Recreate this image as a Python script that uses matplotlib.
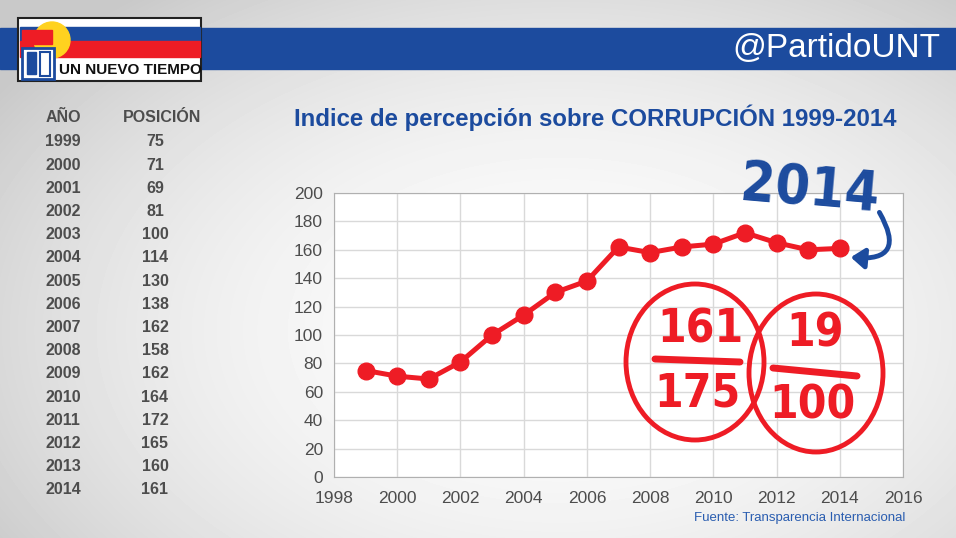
import numpy as np
import matplotlib.pyplot as plt
from matplotlib.patches import Rectangle, Circle, Ellipse, FancyArrowPatch

years = [1999, 2000, 2001, 2002, 2003, 2004, 2005, 2006, 2007,
         2008, 2009, 2010, 2011, 2012, 2013, 2014]
posicion = [75, 71, 69, 81, 100, 114, 130, 138, 162,
            158, 162, 164, 172, 165, 160, 161]

blue = '#1c4b9e'
red = '#ee1c25'
gray_txt = '#4d4d4d'
plt.rcParams['font.family'] = ['Liberation Sans', 'DejaVu Sans']
hand = dict(family='DejaVu Sans', fontstretch='condensed', fontweight='bold')

W, H = 956, 538
fig = plt.figure(figsize=(W / 100, H / 100), dpi=100)

# background: light gray with a whiter centre
bg = fig.add_axes([0, 0, 1, 1])
yy, xx = np.mgrid[0:H, 0:W]
r = np.sqrt(((xx - 560) / 520.0) ** 2 + ((yy - 330) / 330.0) ** 2)
bg.imshow(0.99 - 0.12 * np.clip(r, 0, 1.3) ** 2, cmap='gray', vmin=0, vmax=1,
          extent=[0, W, H, 0], aspect='auto')
bg.set_xlim(0, W)
bg.set_ylim(H, 0)
bg.axis('off')

# header band
bg.add_patch(Rectangle((0, 28), W, 41, color=blue))
bg.text(940, 49, '@PartidoUNT', color='white', fontsize=24, ha='right', va='center')

# logo
bg.add_patch(Rectangle((18, 18), 183, 63, facecolor='white', edgecolor='#222222', lw=1.5))
bg.add_patch(Rectangle((20, 27), 180, 14, color=blue))
bg.add_patch(Rectangle((20, 41), 180, 16, color=red))
bg.add_patch(Circle((52, 40), 18, color='#ffd21f'))
bg.add_patch(Rectangle((22, 30), 30, 14, color=red))
bg.add_patch(Rectangle((22, 48), 32, 31, facecolor='white', edgecolor=blue, lw=2))
bg.add_patch(Rectangle((27, 52), 9, 22, color=blue))
bg.add_patch(Rectangle((40, 52), 10, 24, facecolor='white', edgecolor=blue, lw=1.5))
bg.text(59, 70, 'UN NUEVO TIEMPO', fontsize=11, fontweight='bold', color='#111111',
        va='center', ha='left')

# table
bg.text(63, 118, 'AÑO', fontsize=11.5, fontweight='bold', color=gray_txt, ha='center', va='center')
bg.text(162, 118, 'POSICIÓN', fontsize=11.5, fontweight='bold', color=gray_txt, ha='center', va='center')
for i, (yr, p) in enumerate(zip(years, posicion)):
    ty = 142 + i * 23.2
    bg.text(63, ty, str(yr), fontsize=11.5, fontweight='bold', color=gray_txt, ha='center', va='center')
    bg.text(155, ty, str(p), fontsize=11.5, fontweight='bold', color=gray_txt, ha='center', va='center')

# title and source
bg.text(595, 118, 'Indice de percepción sobre CORRUPCIÓN 1999-2014', fontsize=17.3,
        fontweight='bold', color=blue, ha='center', va='center')
bg.text(905, 518, 'Fuente: Transparencia Internacional', fontsize=9.5,
        color='#2a5db0', ha='right', va='center')

# chart
ax = fig.add_axes([334 / W, 1 - 477 / H, (903 - 334) / W, (477 - 193) / H])
ax.set_facecolor('white')
ax.plot(years, posicion, color=red, lw=3.6, marker='o', markersize=12, zorder=3)
ax.set_xlim(1998, 2016)
ax.set_ylim(0, 200)
ax.set_xticks(range(1998, 2017, 2))
ax.set_yticks(range(0, 201, 20))
ax.grid(color='#d9d9d9', lw=1)
ax.set_axisbelow(True)
for s in ax.spines.values():
    s.set_color('#b0b0b0')
ax.tick_params(length=0, labelsize=12.5, labelcolor=gray_txt, pad=8)
ax.tick_params(axis='x', pad=10)

# overlay for hand-drawn annotations
ov = fig.add_axes([0, 0, 1, 1], facecolor='none')
ov.set_xlim(0, W)
ov.set_ylim(H, 0)
ov.axis('off')
ov.add_patch(Ellipse((695, 362), 138, 156, fill=False, edgecolor=red, lw=3.5))
ov.add_patch(Ellipse((816, 373), 134, 158, fill=False, edgecolor=red, lw=3.5))
ov.text(700, 330, '161', fontsize=33, color=red, ha='center', va='center', **hand)
ov.plot([655, 740], [359, 362], color=red, lw=5, solid_capstyle='round')
ov.text(697, 394, '175', fontsize=33, color=red, ha='center', va='center', **hand)
ov.text(815, 334, '19', fontsize=33, color=red, ha='center', va='center', **hand)
ov.plot([773, 857], [368, 376], color=red, lw=5, solid_capstyle='round')
ov.text(812, 406, '100', fontsize=33, color=red, ha='center', va='center', **hand)
ov.text(810, 190, '2014', fontsize=40, color=blue, ha='center', va='center', rotation=-5, **hand)
ov.add_artist(FancyArrowPatch((878, 210), (848, 257), connectionstyle='arc3,rad=-1.0',
                              arrowstyle='-|>,head_length=8,head_width=6', color=blue, lw=3.5))

fig.savefig('out.png', dpi=100)
